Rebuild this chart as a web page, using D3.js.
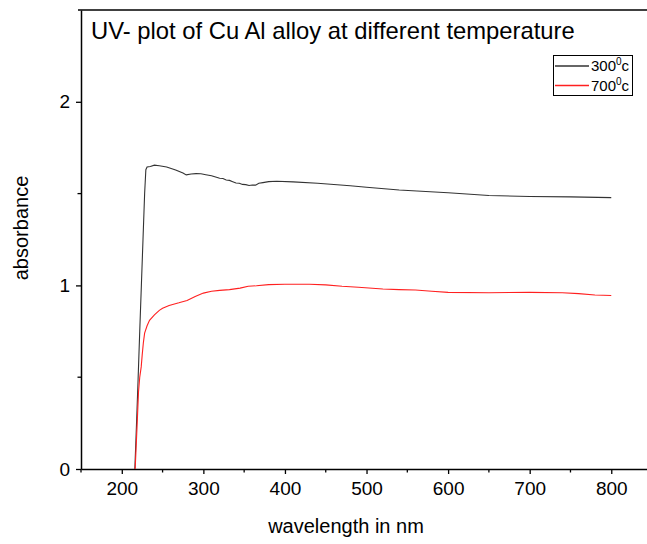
<!DOCTYPE html>
<html lang="en">
<head>
<meta charset="UTF-8">
<script src="https://cdn.jsdelivr.net/npm/d3@7"></script>
<title>UV plot</title>
<style>
  body { margin: 0; background: #fff; }
  text { font-family: Arial, "Liberation Sans", sans-serif; fill: #000; }
</style>
</head>
<body>
<script>
// wavelength (nm) and absorbance
var wl300 = [216, 218, 220, 222, 224, 226, 228, 229.5, 231, 235, 240, 246, 255, 266, 275, 279, 285, 291, 297, 303, 310, 316, 320, 324, 328, 332, 336, 340, 344, 348, 352, 356, 360, 364, 368, 373, 380, 390, 410, 440, 480, 500, 540, 600, 650, 700, 750, 800];
var ab300 = [0, 0.24, 0.49, 0.75, 1.0, 1.25, 1.5, 1.63, 1.645, 1.648, 1.655, 1.652, 1.645, 1.629, 1.612, 1.602, 1.607, 1.609, 1.608, 1.603, 1.597, 1.589, 1.584, 1.582, 1.574, 1.572, 1.565, 1.558, 1.556, 1.55, 1.549, 1.544, 1.547, 1.546, 1.556, 1.56, 1.565, 1.567, 1.564, 1.556, 1.543, 1.535, 1.52, 1.505, 1.49, 1.484, 1.482, 1.478];

var wl700 = [216.4, 218.9, 220.5, 222, 223.8, 225, 226.5, 228, 231, 234, 240, 246, 250, 258, 270, 280, 290, 300, 310, 320, 332, 345, 355, 365, 380, 400, 430, 450, 470, 490, 520, 540, 560, 580, 600, 650, 700, 740, 760, 780, 800];
var ab700 = [0, 0.25, 0.42, 0.5, 0.556, 0.62, 0.69, 0.74, 0.78, 0.81, 0.84, 0.864, 0.875, 0.891, 0.905, 0.918, 0.94, 0.958, 0.968, 0.973, 0.977, 0.985, 0.995, 0.998, 1.004, 1.006, 1.006, 1.003, 0.995, 0.99, 0.98, 0.977, 0.975, 0.968, 0.962, 0.96, 0.962, 0.96, 0.955, 0.948, 0.945];

var xTicks = [200, 300, 400, 500, 600, 700, 800];
var xMinor = [150, 250, 350, 450, 550, 650, 750];
var yTicks = [0, 1, 2];
var yMinor = [0.5, 1.5];
var seriesNames = ["300", "700"];
var seriesColors = ["#333", "#ff2020"];

var width = 647, height = 544;
var mLeft = 81, mTop = 10, mBottom = 469;

var svg = d3.select("body").append("svg").attr("width", width).attr("height", height);

var x = d3.scaleLinear().domain([150, 200 + (width - 122.3) / 0.815]).range([mLeft, width]);
var y = d3.scaleLinear().domain([0, 2.5]).range([mBottom, mTop]);

// minor ticks
svg.selectAll(".xminor").data(xMinor).enter().append("line")
  .attr("x1", function(d){ return x(d); }).attr("x2", function(d){ return x(d); })
  .attr("y1", mBottom).attr("y2", mBottom + 3.5)
  .attr("stroke", "#000").attr("stroke-width", 1.3);
svg.selectAll(".yminor").data(yMinor).enter().append("line")
  .attr("x1", mLeft).attr("x2", mLeft - 3.5)
  .attr("y1", function(d){ return y(d); }).attr("y2", function(d){ return y(d); })
  .attr("stroke", "#000").attr("stroke-width", 1.3);

var xAxis = svg.append("g").attr("transform", "translate(0," + mBottom + ")")
  .call(d3.axisBottom(x).tickValues(xTicks).tickSize(5).tickPadding(8).tickSizeOuter(0));
var yAxis = svg.append("g").attr("transform", "translate(" + mLeft + ",0)")
  .call(d3.axisLeft(y).tickValues(yTicks).tickSize(5).tickPadding(6).tickSizeOuter(0).tickFormat(d3.format("d")));
[xAxis, yAxis].forEach(function(g){
  g.select(".domain").attr("stroke-width", 1.5);
  g.selectAll(".tick line").attr("stroke-width", 1.3);
  g.selectAll("text").attr("font-size", 19).attr("font-family", "Arial, 'Liberation Sans', sans-serif");
});

// top frame line
svg.append("line").attr("x1", mLeft - 3).attr("x2", width).attr("y1", mTop).attr("y2", mTop)
  .attr("stroke", "#000").attr("stroke-width", 1.5);

var line = d3.line().x(function(d){ return x(d[0]); }).y(function(d){ return y(d[1]); });
var series = [d3.zip(wl300, ab300), d3.zip(wl700, ab700)];
svg.selectAll(".series").data(series).enter().append("path")
  .attr("d", line).attr("fill", "none")
  .attr("stroke", function(d, i){ return seriesColors[i]; })
  .attr("stroke-width", 1.1);

// title
svg.append("text").attr("x", 91).attr("y", 39).attr("font-size", 23.8)
  .text("UV- plot of Cu Al alloy at different temperature");

// axis titles
svg.append("text").attr("x", 346).attr("y", 533).attr("text-anchor", "middle").attr("font-size", 20)
  .text("wavelength in nm");
svg.append("text").attr("transform", "translate(28,228) rotate(-90)").attr("text-anchor", "middle").attr("font-size", 20)
  .text("absorbance");

// legend
var lg = svg.append("g");
lg.append("rect").attr("x", 553.5).attr("y", 55.5).attr("width", 79).attr("height", 40)
  .attr("fill", "#fff").attr("stroke", "#000").attr("stroke-width", 1);
seriesNames.forEach(function(n, i){
  var yy = 66 + i * 19.5;
  lg.append("path").attr("d", "M555," + yy + "H589")
    .attr("stroke", seriesColors[i]).attr("stroke-width", 1.4).attr("fill", "none");
  var t = lg.append("text").attr("x", 591).attr("y", yy + 5).attr("font-size", 15);
  t.append("tspan").text(n);
  t.append("tspan").attr("font-size", 10).attr("dy", -6).text("0");
  t.append("tspan").attr("dy", 6).text("c");
});
</script>
</body>
</html>
